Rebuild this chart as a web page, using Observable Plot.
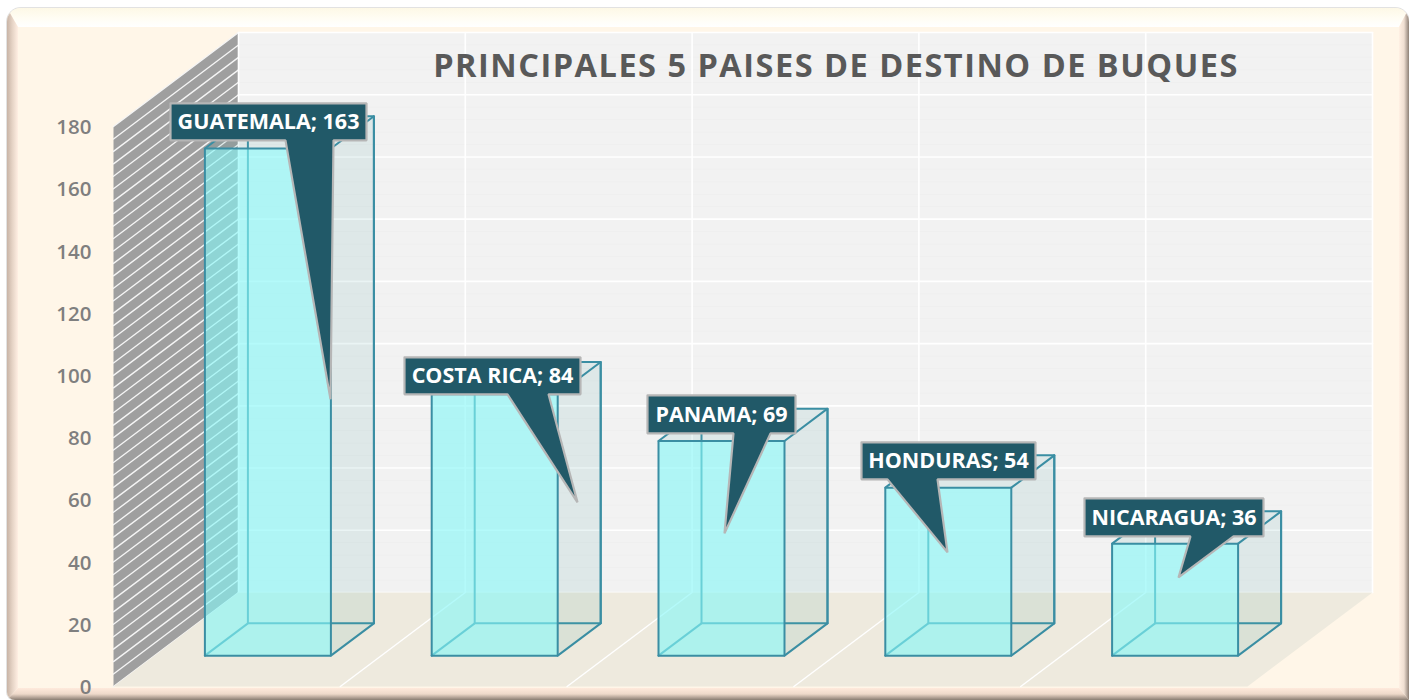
<!DOCTYPE html>
<html><head><meta charset="utf-8">
<script src="https://cdn.jsdelivr.net/npm/d3@7"></script>
<script src="https://cdn.jsdelivr.net/npm/@observablehq/plot@0.6"></script>
<style>
html,body{margin:0;padding:0;background:#fff;width:1409px;height:700px;overflow:hidden}
#frame{position:absolute;left:7px;top:8px;width:1402px;height:692px;border-radius:14px 14px 0 8px;overflow:hidden;background:#fff6e8;box-shadow:0 0 0 1px #e2e2e2}
.s{position:absolute}
#t{left:0;top:0;width:100%;height:19px;background:linear-gradient(#fdf8e6,#fffdf4 55%,#fff);clip-path:polygon(0 0,100% 0,calc(100% - 10px) 100%,11px 100%)}
#l{left:0;top:0;width:11px;height:100%;background:linear-gradient(90deg,#c8b4a6,#e6d4c6 50%,#ffefe3);clip-path:polygon(0 0,100% 19px,100% calc(100% - 12px),0 100%)}
#r{right:0;top:0;width:10px;height:100%;background:linear-gradient(90deg,#fff0e3,#f0dfd2 50%,#8e8177);clip-path:polygon(0 19px,100% 0,100% 100%,0 calc(100% - 12px))}
#b{left:0;bottom:0;width:100%;height:12px;background:linear-gradient(#ffeadc,#eed9ca 50%,#8a7d73);clip-path:polygon(11px 0,calc(100% - 10px) 0,100% 100%,0 100%)}
#title{position:absolute;left:336px;width:1000px;top:43px;text-align:center;font:700 32.5px "Open Sans",sans-serif;letter-spacing:1.5px;color:#595959;line-height:44px;white-space:nowrap}
#chart{position:absolute;left:0;top:0}
#chart svg{background:transparent;display:block}
</style></head>
<body>
<div id="frame"><div class="s" id="t"></div><div class="s" id="l"></div><div class="s" id="r"></div><div class="s" id="b"></div></div>
<div id="chart"></div>
<div id="title">PRINCIPALES 5 PAISES DE DESTINO DE BUQUES</div>
<script>
// --- data ---
const countries = ["GUATEMALA","COSTA RICA","PANAMA","HONDURAS","NICARAGUA"];
const shipments = [163,84,69,54,36];
const yTicks = [0,20,40,60,80,100,120,140,160,180];
const minorStep = 4;

// --- layout ---
const W = 1409, H = 700;
const xRange = [113,1247], yRange = [686,126];
const unitX = (xRange[1]-xRange[0])/countries.length;
const unitY = (yRange[0]-yRange[1])/180;
const depthX = 125/unitX, depthY = 94/unitY;      // oblique projection of the box depth
const barWidth = 126/unitX, barDepth = 43/125;
const barDepthStart = (1-barDepth)/2;
const P = (cat,depth,val)=>({x:cat+depth*depthX, y:val+depth*depthY});
const poly = (id,pts)=>pts.map(p=>({id,...P(...p)}));
const yMax = yTicks[yTicks.length-1];
const nCat = countries.length;

// callout geometry, px offsets from each bar's top-left front corner:
// [box left, box top, box w, box h, tail base a, tail base b, tip x, tip y]
const calloutShape = [
 [-34.4,-45.2,196,37, 80.6,128.6,125.6,250.8],
 [-27.2,-37.0,176,37, 75.8,116.8,145.8,108.0],
 [-11.0,-45.6,148,38, 75.0,112.0, 66.0, 92.4],
 [-23.8,-45.3,174,37,  2.2, 52.2, 62.2, 64.7],
 [-27.6,-45.2,179,38, 78.4,121.4, 66.4, 33.8]
];

// --- geometry built from the data ---
const wall = poly("w",[[0,0,0],[0,1,0],[0,1,yMax],[0,0,yMax]]);
const minorVals = d3.range(0,yMax+minorStep,minorStep);
const stripes = minorVals.flatMap(v=>poly("s"+v,[[0,0,v],[0,1,v]]));
const back = poly("b",[[0,1,0],[nCat,1,0],[nCat,1,yMax],[0,1,yMax]]);
const backMinor = minorVals.flatMap(v=>poly("m"+v,[[0,1,v],[nCat,1,v]]));
const backMajor = yTicks.flatMap(v=>poly("M"+v,[[0,1,v],[nCat,1,v]]));
const backVert = d3.range(0,nCat+1).flatMap(c=>poly("V"+c,[[c,1,0],[c,1,yMax]]));
const floor = poly("f",[[0,0,0],[nCat,0,0],[nCat,1,0],[0,1,0]]);
const floorLines = d3.range(1,nCat).flatMap(c=>poly("F"+c,[[c,0,0],[c,1,0]]));

const faces = {backEdges:[],front:[],side:[],top:[],edges:[]};
const callouts=[], labels=[];
shipments.forEach((v,i)=>{
  const a=i+.5-barWidth/2, b=a+barWidth, d0=barDepthStart, d1=d0+barDepth;
  faces.backEdges.push(
    ...poly(`be${i}a`,[[a,d0,0],[a,d1,0],[b,d1,0]]),
    ...poly(`be${i}b`,[[a,d1,0],[a,d1,v]]));
  faces.front.push(...poly(`fr${i}`,[[a,d0,0],[b,d0,0],[b,d0,v],[a,d0,v]]));
  faces.side.push(...poly(`si${i}`,[[b,d0,0],[b,d1,0],[b,d1,v],[b,d0,v]]));
  faces.top.push(...poly(`to${i}`,[[a,d0,v],[b,d0,v],[b,d1,v],[a,d1,v]]));
  faces.edges.push(...poly(`ed${i}`,[[a,d0,0],[b,d0,0],[b,d0,v],[a,d0,v],[a,d0,0]]),
    ...poly(`ed${i}r`,[[b,d0,0],[b,d1,0],[b,d1,v],[b,d0,v]]),
    ...poly(`ed${i}t`,[[a,d0,v],[a,d1,v],[b,d1,v]]),
    ...poly(`ed${i}u`,[[b,d1,0],[b,d1,v]]));
  const o=P(a,d0,v);
  const at=(dx,dy)=>({id:"c"+i,x:o.x+dx/unitX,y:o.y-dy/unitY});
  const [l,t,w,h,ba,bb,tx,ty]=calloutShape[i];
  callouts.push(at(l,t),at(l+w,t),at(l+w,t+h),at(bb,t+h),at(tx,ty),at(ba,t+h),at(l,t+h),at(l,t));
  const c=at(l+w/2,t+h/2);
  labels.push({x:c.x,y:c.y,text:`${countries[i]}; ${v}`});
});

const area=(d,opts)=>Plot.line(d,{x:"x",y:"y",z:"id",stroke:"none",...opts});
const path=(d,opts)=>Plot.line(d,{x:"x",y:"y",z:"id",...opts});

const chart = Plot.plot({
  width:W,height:H,marginLeft:xRange[0],marginRight:W-xRange[1],marginTop:yRange[1],marginBottom:H-yRange[0],
  x:{type:"linear",domain:[0,nCat],range:xRange,axis:null},
  y:{type:"linear",domain:[0,yMax],range:yRange,axis:null},
  style:{background:"transparent",fontFamily:"'Open Sans',sans-serif",overflow:"visible"},
  marks:[
    area(wall,{fill:"#9f9f9f"}),
    path(stripes,{stroke:"#f5f5f5",strokeWidth:1.4}),
    area(back,{fill:"#f2f2f2"}),
    path(backMinor,{stroke:"#efefef",strokeWidth:1}),
    path(backMajor,{stroke:"#ffffff",strokeWidth:1.6}),
    path(backVert,{stroke:"#ffffff",strokeWidth:1.6}),
    area(floor,{fill:"#eeeade"}),
    path(floorLines,{stroke:"#ffffff",strokeWidth:1.5}),
    area(faces.top,{fill:"#348f90",fillOpacity:.1}),
    path(faces.backEdges,{stroke:"#3f93a6",strokeWidth:2}),
    area(faces.front,{fill:"#84f7f7",fillOpacity:.61}),
    area(faces.side,{fill:"#349090",fillOpacity:.1}),
    path(faces.edges,{stroke:"#3a8ea3",strokeWidth:2,strokeLinejoin:"miter"}),
    Plot.axisY({ticks:yTicks,anchor:"left",tickSize:0,tickPadding:22,label:null,tickFormat:d=>String(d),
      fontSize:20.5,fontWeight:600,fill:"#7f7f7f",dy:1}),
    area(callouts,{fill:"#215968",stroke:"#b6b6b6",strokeWidth:2.2,strokeLinejoin:"miter"}),
    Plot.text(labels,{x:"x",y:"y",text:"text",fill:"#fff",fontWeight:700,fontSize:21.5,dy:0.5})
  ]
});
document.getElementById("chart").append(chart);
</script>
</body></html>
